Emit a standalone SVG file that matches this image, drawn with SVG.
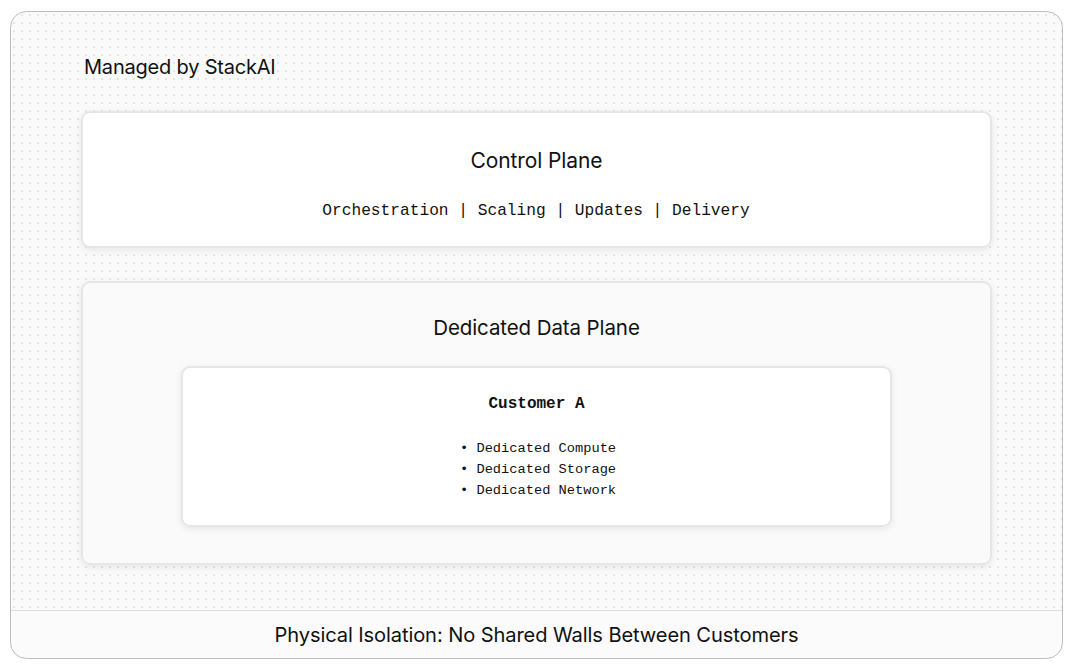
<svg xmlns="http://www.w3.org/2000/svg" width="1076" height="670" viewBox="0 0 1076 670">
<defs>
<pattern id="dots" x="10" y="11" width="8" height="8" patternUnits="userSpaceOnUse">
<rect width="8" height="8" fill="#fafafa"/>
<circle cx="4" cy="4" r="0.9" fill="#dcdcdc"/>
</pattern>
<filter id="sh" x="-5%" y="-10%" width="110%" height="125%">
<feDropShadow dx="0" dy="2" stdDeviation="3" flood-color="#000" flood-opacity="0.08"/>
</filter>
<clipPath id="outerClip"><rect x="10" y="11" width="1053" height="648" rx="16"/></clipPath>
</defs>
<style>
.sans{font-family:Inter,"Liberation Sans",sans-serif;fill:#111;letter-spacing:-0.1px;}
.mono{font-family:"Liberation Mono","DejaVu Sans Mono",monospace;fill:#111;}
.card{stroke:#e6e6e6;stroke-width:2;}
</style>
<rect width="1076" height="670" fill="#ffffff"/>
<g id="frame">
<g clip-path="url(#outerClip)">
<rect x="10" y="11" width="1053" height="648" fill="url(#dots)"/>
<rect x="10" y="610" width="1053" height="49" fill="#fbfbfb"/>
<line x1="10" y1="610.5" x2="1063" y2="610.5" stroke="#dedede" stroke-width="1"/>
</g>
<rect x="10.5" y="11.5" width="1052" height="647" rx="16" fill="none" stroke="#bdbdbd" stroke-width="1"/>
<text class="sans" x="84" y="74" font-size="20" style="letter-spacing:-0.2px">Managed by StackAI</text>
</g>
<g id="control-plane">
<rect class="card" x="82" y="112" width="909" height="135" rx="8" fill="#ffffff" filter="url(#sh)"/>
<text class="sans" x="536.5" y="168" font-size="21" text-anchor="middle">Control Plane</text>
<text class="mono" x="536" y="215" font-size="16.2" text-anchor="middle">Orchestration | Scaling | Updates | Delivery</text>
</g>
<g id="data-plane">
<rect class="card" x="82" y="282" width="909" height="282" rx="8" fill="#fafafa" filter="url(#sh)"/>
<text class="sans" x="536.5" y="335" font-size="20.5" text-anchor="middle">Dedicated Data Plane</text>
</g>
<g id="customer-a">
<rect class="card" x="182" y="367" width="709" height="159" rx="8" fill="#ffffff" filter="url(#sh)"/>
<text class="mono" x="536.5" y="408" font-size="16" font-weight="bold" text-anchor="middle">Customer A</text>
<text class="mono" x="460" y="452" font-size="13.7">• Dedicated Compute</text>
<text class="mono" x="460" y="473" font-size="13.7">• Dedicated Storage</text>
<text class="mono" x="460" y="494" font-size="13.7">• Dedicated Network</text>
</g>
<g id="footer">
<text class="sans" x="536.5" y="642" font-size="20.1" text-anchor="middle">Physical Isolation: No Shared Walls Between Customers</text>
</g>
<g id="connectors"></g>
</svg>
